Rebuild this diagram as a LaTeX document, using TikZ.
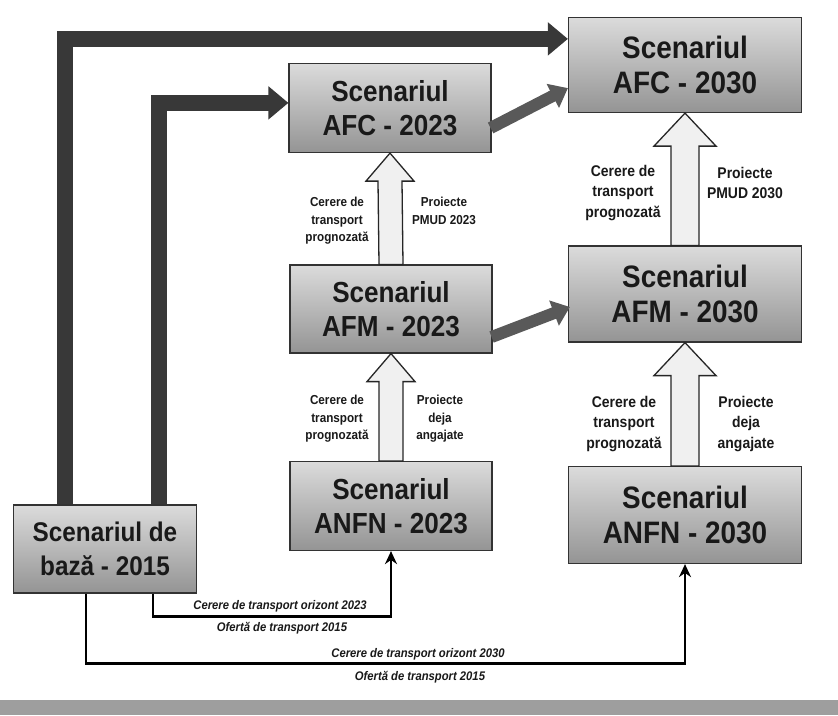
\documentclass[tikz,border=0pt]{standalone}
\usepackage{fontspec}
\setmainfont{Liberation Sans}
\newfontfamily\narrowfont[FakeStretch=0.9]{Liberation Sans}
\usetikzlibrary{arrows.meta,calc}

\newcommand\blockarr[5]{%
  \draw[blk] ($(#1)+(-#3,0)$) -- ($(#2)+(-#3,#5)$) -- ($(#2)+(-#4,#5)$) -- (#2)
    -- ($(#2)+(#4,#5)$) -- ($(#2)+(#3,#5)$) -- ($(#1)+(#3,0)$) -- cycle;}

\begin{document}
\begin{tikzpicture}[x=1pt,y=-1pt,
  scen/.style={draw=black!80, line width=1.2pt, top color=black!14, bottom color=black!42,
    align=center, text=black!90, inner sep=0pt},
  bigbox/.style={scen, minimum width=233pt, font=\narrowfont\bfseries\fontsize{31}{35}\selectfont},
  midbox/.style={scen, minimum width=202pt, font=\narrowfont\bfseries\fontsize{29}{34}\selectfont},
  basebox/.style={scen, minimum width=183pt, minimum height=88pt, font=\narrowfont\bfseries\fontsize{27}{34}\selectfont},
  blk/.style={draw=black!85, line width=1.3pt, fill=black!6, line join=miter},
  heavy/.style={draw=black!78, line width=16pt, line join=miter,
    -{Triangle[length=20pt,width=32pt]}},
  diag/.style={draw=black!65, line width=12pt, -{Triangle[length=17pt,width=26pt]}},
  thinarr/.style={draw=black, line width=2.6pt, -{Stealth[length=13pt,width=12pt]}},
  sidesm/.style={align=center, text=black!90, font=\narrowfont\bfseries\fontsize{13}{17.5}\selectfont},
  sidebg/.style={align=center, text=black!90, font=\narrowfont\bfseries\fontsize{15.5}{20.5}\selectfont},
  linelab/.style={text=black!90, font=\narrowfont\bfseries\itshape\fontsize{12.5}{14}\selectfont}
]
\useasboundingbox (0,0) rectangle (838,715);
\fill[white] (0,0) rectangle (838,715);
\fill[black!38] (0,700) rectangle (838,715);

% boxes
\node[bigbox, minimum height=95pt] (afc30) at (685,65) {Scenariul\\AFC - 2030};
\node[midbox, minimum height=89pt] (afc23) at (390,108) {Scenariul\\AFC - 2023};
\node[midbox, minimum height=88pt] (afm23) at (391,309) {Scenariul\\AFM - 2023};
\node[bigbox, minimum height=96pt] (afm30) at (685,294) {Scenariul\\AFM - 2030};
\node[midbox, minimum height=89pt] (anfn23) at (391,506) {Scenariul\\ANFN - 2023};
\node[bigbox, minimum height=97pt] (anfn30) at (685,515) {Scenariul\\ANFN - 2030};
\node[basebox] (base) at (105,549) {Scenariul de\\bază - 2015};

% heavy L arrows
\draw[heavy] ($(base.north west)+(52,0)$) |- ($(afc30.north west)+(0,22)$);
\draw[heavy] ($(base.north west)+(146,0)$) |- ($(afc23.north west)+(0,40)$);

% diagonal arrows
\draw[diag] ($(afc23.east)+(-1,20)$) -- ($(afc30.south west)+(0,-25)$);
\draw[diag] ($(afm23.east)+(-1,28)$) -- ($(afm30.west)+(2,13)$);

% block arrows
\blockarr{afm23.north}{afc23.south}{12}{24}{28}
\blockarr{anfn23.north}{afm23.south}{12}{24}{28}
\blockarr{afm30.north}{afc30.south}{14}{31}{33}
\blockarr{anfn30.north}{afm30.south}{14}{31}{33}

% side labels
\node[sidesm] (l1) at (337,221) {Cerere de\\transport\\prognozată};
\node[sidesm] (r1) at (444,211) {Proiecte\\PMUD 2023};
\node[sidebg] (l2) at (623,193) {Cerere de\\transport\\prognozată};
\node[sidebg] (r2) at (745,183) {Proiecte\\PMUD 2030};
\node[sidesm] (l3) at (337,419) {Cerere de\\transport\\prognozată};
\node[sidesm] (r3) at (440,419) {Proiecte\\deja\\angajate};
\node[sidebg] (l4) at (624,424) {Cerere de\\transport\\prognozată};
\node[sidebg] (r4) at (746,424) {Proiecte\\deja\\angajate};

% thin arrows
\draw[thinarr] ($(base.south west)+(140,0)$) -- ++(0,23) -| (anfn23.south);
\draw[thinarr] ($(base.south west)+(73,0)$) -- ++(0,70) -| (anfn30.south);

\node[linelab] (t1) at (280,606) {Cerere de transport orizont 2023};
\node[linelab] (t2) at (282,628) {Ofertă de transport 2015};
\node[linelab] (t3) at (418,654) {Cerere de transport orizont 2030};
\node[linelab] (t4) at (420,677) {Ofertă de transport 2015};
\end{tikzpicture}
\end{document}
